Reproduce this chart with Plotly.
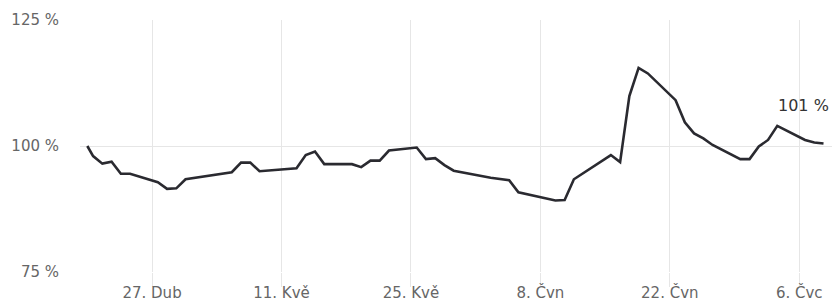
import plotly.graph_objects as go

dates = [
    "2020-04-20 00:00", "2020-04-20 15:00", "2020-04-21 15:00", "2020-04-22 15:00",
    "2020-04-23 15:00", "2020-04-24 15:00", "2020-04-27 15:00", "2020-04-28 15:00",
    "2020-04-29 15:00", "2020-04-30 15:00", "2020-05-05 15:00", "2020-05-06 15:00",
    "2020-05-07 15:00", "2020-05-08 15:00", "2020-05-12 15:00", "2020-05-13 15:00",
    "2020-05-14 15:00", "2020-05-15 15:00", "2020-05-18 15:00", "2020-05-19 15:00",
    "2020-05-20 15:00", "2020-05-21 15:00", "2020-05-22 15:00", "2020-05-25 15:00",
    "2020-05-26 15:00", "2020-05-27 15:00", "2020-05-28 15:00", "2020-05-29 15:00",
    "2020-06-02 15:00", "2020-06-04 15:00", "2020-06-05 15:00", "2020-06-09 15:00",
    "2020-06-10 15:00", "2020-06-11 15:00", "2020-06-15 15:00", "2020-06-16 15:00",
    "2020-06-17 15:00", "2020-06-18 15:00", "2020-06-19 15:00", "2020-06-22 15:00",
    "2020-06-23 15:00", "2020-06-24 15:00", "2020-06-25 15:00", "2020-06-26 15:00",
    "2020-06-29 15:00", "2020-06-30 15:00", "2020-07-01 15:00", "2020-07-02 15:00",
    "2020-07-03 15:00", "2020-07-06 15:00", "2020-07-07 15:00", "2020-07-08 15:00",
]
values = [
    100.0, 98.0, 96.5, 96.9,
    94.5, 94.5, 92.8, 91.5,
    91.6, 93.4, 94.8, 96.7,
    96.7, 95.0, 95.6, 98.2,
    98.9, 96.4, 96.4, 95.8,
    97.1, 97.1, 99.1, 99.7,
    97.4, 97.6, 96.2, 95.1,
    93.7, 93.2, 90.8, 89.2,
    89.3, 93.4, 98.2, 96.8,
    109.9, 115.5, 114.4, 109.1,
    104.7, 102.5, 101.5, 100.2,
    97.4, 97.4, 99.9, 101.2,
    104.0, 101.2, 100.7, 100.5,
]

tick_dates = ["2020-04-27", "2020-05-11", "2020-05-25", "2020-06-08", "2020-06-22", "2020-07-06"]
tick_labels = ["27. Dub", "11. Kvě", "25. Kvě", "8. Čvn", "22. Čvn", "6. Čvc"]
y_ticks = [75, 100, 125]
y_tick_labels = ["75 %", "100 %", "125 %"]
last_label = "101 %"

fig = go.Figure()
fig.add_trace(go.Scatter(
    x=dates, y=values, mode="lines",
    line=dict(color="#2a2a30", width=2.6),
    hoverinfo="skip",
))

fig.add_annotation(
    x=dates[-1], y=values[-1], text=last_label, showarrow=False,
    xanchor="right", yanchor="middle", xshift=7, yshift=38,
    font=dict(family="DejaVu Sans", size=16, color="#333333"),
)

fig.update_layout(
    width=832, height=302,
    margin=dict(l=80, r=0, t=20, b=30, autoexpand=False),
    paper_bgcolor="white", plot_bgcolor="white",
    showlegend=False,
    font=dict(family="DejaVu Sans", size=15, color="#666666"),
)
fig.update_xaxes(
    type="date", automargin=False,
    range=["2020-04-19 05:00", "2020-07-09 13:00"],
    tickvals=tick_dates, ticktext=tick_labels,
    showgrid=True, gridcolor="#e6e6e6", gridwidth=1,
    ticks="outside", ticklen=14, tickcolor="#e6e6e6", tickwidth=1,
    ticklabelstandoff=-7,
    showline=False, zeroline=False,
    tickfont=dict(size=15, color="#666666"),
)
fig.update_yaxes(
    automargin=False,
    range=[75, 125],
    tickvals=y_ticks, ticktext=y_tick_labels,
    showgrid=True, gridcolor="#e6e6e6", gridwidth=1,
    zeroline=False, showline=False,
    ticklabelstandoff=20,
    tickfont=dict(size=15, color="#666666"),
)

fig.write_html(
    "out.html",
    config={"displayModeBar": False},
    post_script="document.body.style.margin='0';",
)
